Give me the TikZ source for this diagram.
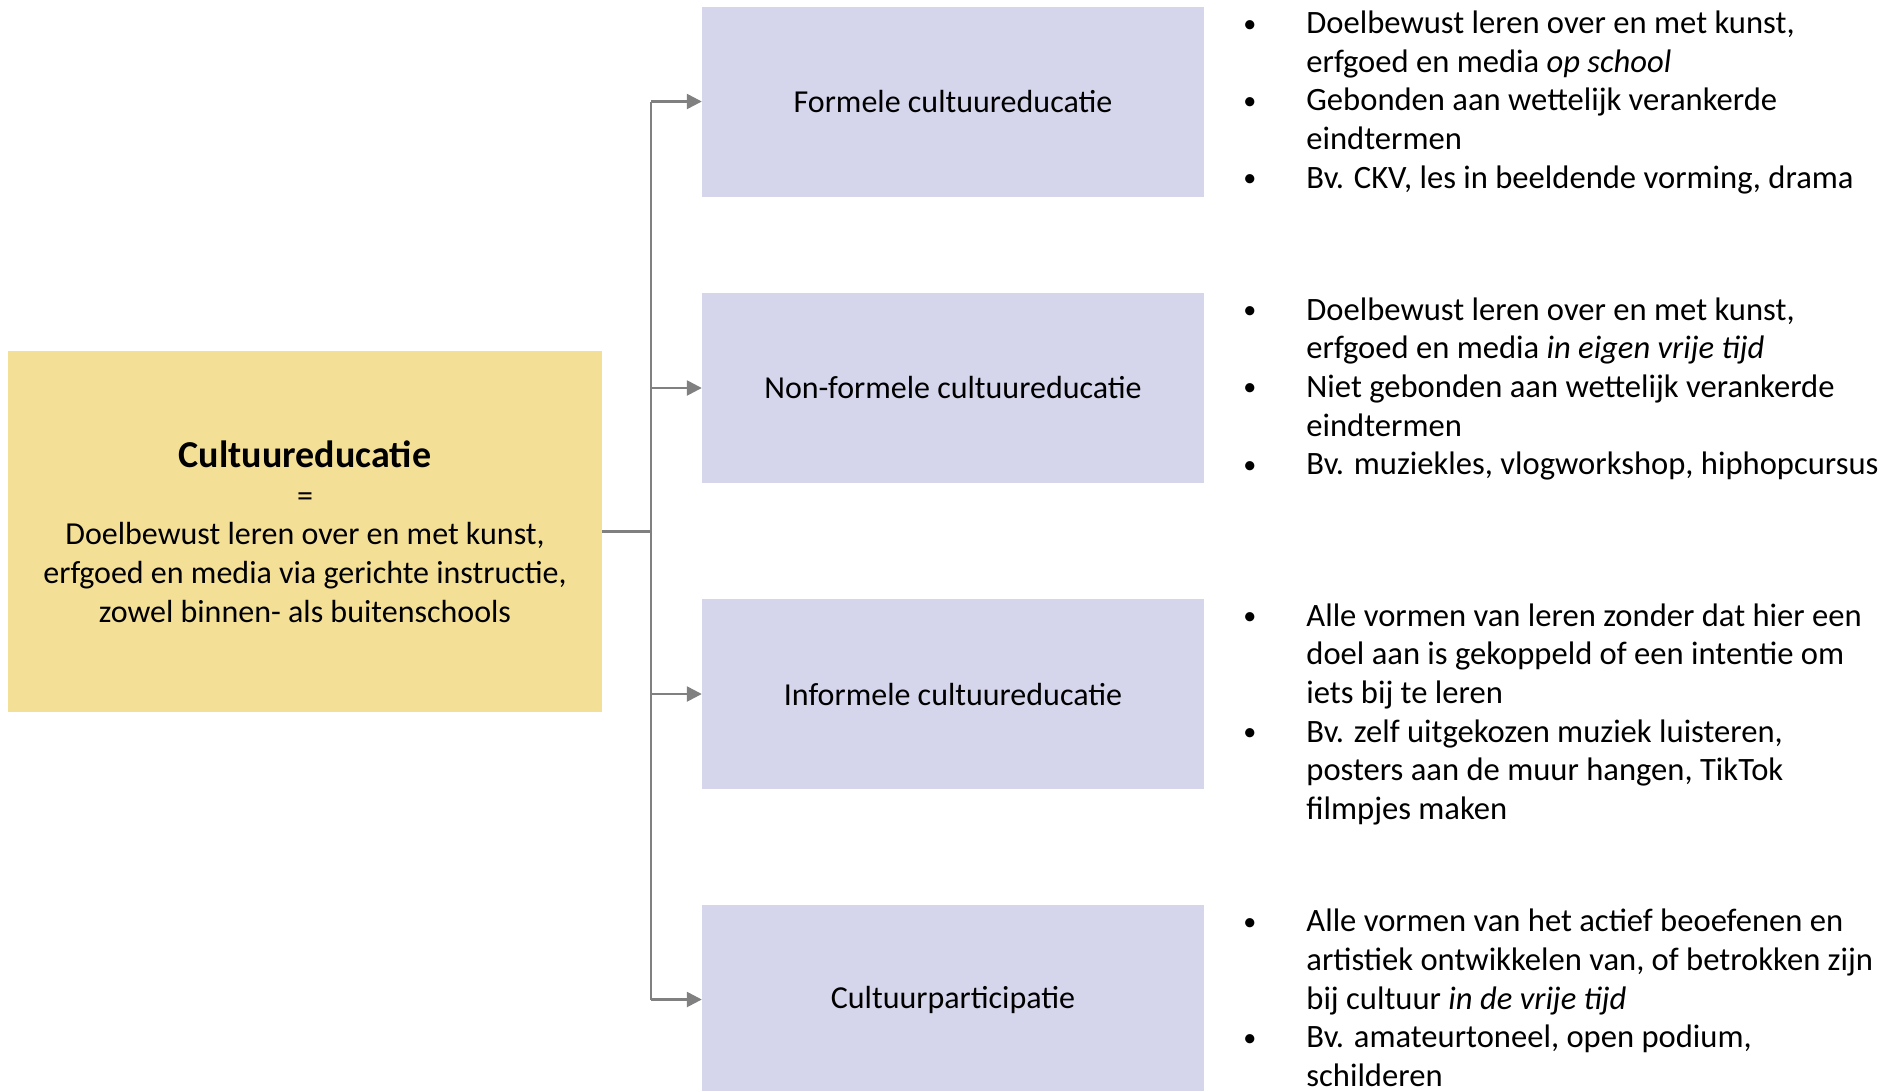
\documentclass[tikz,border=0pt]{standalone}
\usepackage{fontspec}
\setmainfont{Carlito}
\usetikzlibrary{positioning,arrows.meta}
\definecolor{rootfill}{RGB}{243,223,150}
\definecolor{typefill}{RGB}{213,213,236}
\definecolor{linkgray}{RGB}{128,128,128}
\newcommand{\bodyfont}{\fontsize{32}{38.7}\selectfont}
\newcommand{\listfont}{\fontsize{32.6}{38.7}\selectfont}
\newcommand{\headfont}{\fontsize{38}{38.7}\selectfont\bfseries}
\newcommand{\dotmark}{\raisebox{1.5pt}{\scalebox{0.8}{\textbullet}}}
\newenvironment{pointlist}{\renewcommand{\arraystretch}{1}\begin{tabular}{@{}p{63pt}@{}l@{}}}{\end{tabular}}

\begin{document}
\begin{tikzpicture}[x=1pt, y=-1pt,
    rootbox/.style={fill=rootfill, minimum width=594, minimum height=361, inner sep=0, align=center, font=\bodyfont},
    typebox/.style={fill=typefill, minimum width=502, minimum height=190, inner sep=0, font=\bodyfont},
    points/.style={anchor=north west, inner sep=0, font=\listfont},
    link/.style={draw=linkgray, line width=2.5}]
  \useasboundingbox (0,0) rectangle (1898,1090);
  % Definition box on the left
  \node[rootbox] (root) at (305,531.5) {{\headfont Cultuureducatie}\\ = \\
    Doelbewust leren over en met kunst,\\
    erfgoed en media via gerichte instructie,\\
    zowel binnen- als buitenschools};
  % Four kinds
  \node[typebox] (f1) at (953,101.5) {Formele cultuureducatie};
  \node[typebox] (f2) at (953,388) {Non-formele cultuureducatie};
  \node[typebox] (f3) at (953,694) {Informele cultuureducatie};
  \node[typebox] (f4) at (953,999.5) {Cultuurparticipatie};
  % Connectors (bus line with arrows)
  \coordinate (bus) at ([xshift=49]root.east);
  \draw[link] (root.east) -- (bus);
  \draw[link] (bus |- f1.west) -- (bus |- f4.west);
  \foreach \t in {f1,f2,f3,f4}
    \draw[link, -{Triangle[length=15, width=15]}] (bus |- \t.west) -- (\t.west);
  % Explanations next to each box
  \node[points] (p1) at ([xshift=39]f1.north east) {\begin{pointlist}
    \dotmark & Doelbewust leren over en met kunst,\\
     & erfgoed en media \textit{op school}\\
    \dotmark & Gebonden aan wettelijk verankerde\\
     & eindtermen\\
    \dotmark & Bv. CKV, les in beeldende vorming, drama
  \end{pointlist}};
  \node[points] (p2) at ([xshift=39]f2.north east) {\begin{pointlist}
    \dotmark & Doelbewust leren over en met kunst,\\
     & erfgoed en media \textit{in eigen vrije tijd}\\
    \dotmark & Niet gebonden aan wettelijk verankerde\\
     & eindtermen\\
    \dotmark & Bv. muziekles, vlogworkshop, hiphopcursus
  \end{pointlist}};
  \node[points] (p3) at ([xshift=39]f3.north east) {\begin{pointlist}
    \dotmark & Alle vormen van leren zonder dat hier een\\
     & doel aan is gekoppeld of een intentie om\\
     & iets bij te leren\\
    \dotmark & Bv. zelf uitgekozen muziek luisteren,\\
     & posters aan de muur hangen, TikTok\\
     & filmpjes maken
  \end{pointlist}};
  \node[points] (p4) at ([xshift=39]f4.north east) {\begin{pointlist}
    \dotmark & Alle vormen van het actief beoefenen en\\
     & artistiek ontwikkelen van, of betrokken zijn\\
     & bij cultuur \textit{in de vrije tijd}\\
    \dotmark & Bv. amateurtoneel, open podium,\\
     & schilderen
  \end{pointlist}};
\end{tikzpicture}
\end{document}
